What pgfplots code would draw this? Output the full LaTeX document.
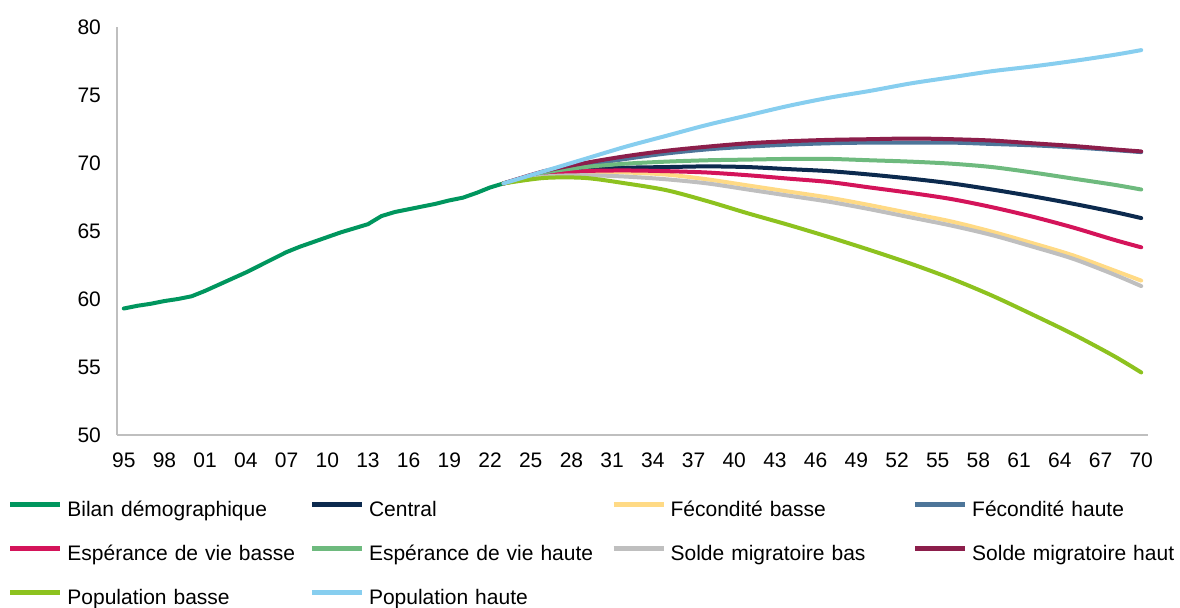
\documentclass[border=0pt]{standalone}
\usepackage{pgfplots}
\pgfplotsset{compat=1.18}
\usepackage{pgfplotstable}
\usepackage{fontspec}
\setmainfont{Liberation Sans}
\definecolor{cBilan}{HTML}{00965E}
\definecolor{cCentral}{HTML}{0C2A4E}
\definecolor{cFB}{HTML}{FFDA85}
\definecolor{cFH}{HTML}{4D7599}
\definecolor{cEVB}{HTML}{D4145A}
\definecolor{cEVH}{HTML}{6EBA7E}
\definecolor{cSMB}{HTML}{BFBFBF}
\definecolor{cSMH}{HTML}{8C1E4B}
\definecolor{cPB}{HTML}{8DC21F}
\definecolor{cPH}{HTML}{87CEEF}

\pgfplotstableread{
year v
1995 59.3
1996 59.5
1997 59.65
1998 59.85
1999 60.0
2000 60.2
2001 60.6
2002 61.05
2003 61.5
2004 61.95
2005 62.45
2006 62.95
2007 63.45
2008 63.85
2009 64.2
2010 64.55
2011 64.9
2012 65.2
2013 65.5
2014 66.1
2015 66.4
2016 66.6
2017 66.8
2018 67.0
2019 67.25
2020 67.45
2021 67.8
2022 68.2
2023 68.5
}\bilan

\pgfplotstableread{
year central smh fh evh evb fb smb pb ph
2023 68.5 68.5 68.5 68.5 68.5 68.5 68.5 68.5 68.5
2026 69.2 69.4 69.3 69.3 69.1 69.1 69.0 68.9 69.4
2029 69.5 70.0 69.85 69.7 69.4 69.3 69.1 68.9 70.3
2032 69.65 70.5 70.3 69.95 69.45 69.3 69.0 68.5 71.2
2035 69.7 70.9 70.7 70.1 69.4 69.15 68.8 68.0 72.0
2038 69.75 71.2 71.0 70.2 69.3 68.8 68.5 67.2 72.8
2041 69.7 71.45 71.2 70.25 69.1 68.35 68.05 66.3 73.5
2044 69.55 71.6 71.35 70.3 68.85 67.9 67.6 65.45 74.2
2047 69.4 71.7 71.45 70.3 68.6 67.45 67.15 64.55 74.8
2050 69.15 71.75 71.5 70.2 68.2 66.9 66.6 63.6 75.3
2053 68.85 71.8 71.5 70.1 67.8 66.3 66.0 62.6 75.85
2056 68.5 71.75 71.5 69.95 67.35 65.7 65.4 61.5 76.3
2059 68.05 71.65 71.4 69.7 66.75 64.95 64.7 60.25 76.75
2062 67.55 71.45 71.3 69.3 66.05 64.1 63.85 58.85 77.1
2065 67.0 71.25 71.15 68.85 65.25 63.2 62.95 57.4 77.5
2068 66.4 71.0 70.95 68.4 64.35 62.1 61.8 55.8 77.95
2070 65.95 70.85 70.8 68.05 63.8 61.35 60.95 54.6 78.3
}\proj

\begin{document}
\begin{tikzpicture}
\path[use as bounding box] (-58.5pt,-86.5pt) rectangle (531.5pt,217.5pt);
\begin{axis}[
  scale only axis,
  width=515.5pt, height=204pt,
  xmin=1994.5, xmax=2070.5,
  ymin=50, ymax=80,
  ytick={50,55,...,80},
  xtick={1995,1998,...,2070},
  xticklabels={95,98,01,04,07,10,13,16,19,22,25,28,31,34,37,40,43,46,49,52,55,58,61,64,67,70},
  axis x line=bottom, axis y line=left,
  axis line style={draw=black!25, line width=0.6pt, -},
  major tick length=0pt,
  tick style={draw=none},
  tick label style={font=\fontsize{10.5}{12}\selectfont, /pgf/number format/assume math mode=true},
  yticklabel style={xshift=-4.5pt},
  xticklabel style={yshift=-5.5pt},
  every axis plot/.append style={line width=2pt, line join=round, line cap=round},
  legend image code/.code={\draw[#1, line width=2.5pt, line cap=butt] (0pt,3.6pt) -- (25pt,3.6pt);},
  legend columns=4,
  legend style={
    at={(-0.1058,-0.163)}, anchor=north west,
    draw=none, fill=none, inner sep=0pt, outer sep=0pt,
    font=\fontsize{10.5}{12}\selectfont,
    row sep=12pt,
    nodes={text width=119.3pt, align=left, inner xsep=1.75pt, inner ysep=0pt, text height=7.5pt, text depth=2.5pt},
    /tikz/every odd column/.append style={column sep=0.5pt},
    /tikz/every even column/.append style={column sep=0pt},
  },
  legend cell align=left,
]
\addplot[cBilan] table[x=year,y=v] {\bilan};
\addlegendentry{Bilan démographique}
\addplot[cCentral, smooth] table[x=year,y=central] {\proj};
\addlegendentry{Central}
\addplot[cFB, smooth] table[x=year,y=fb] {\proj};
\addlegendentry{Fécondité basse}
\addplot[cFH, smooth] table[x=year,y=fh] {\proj};
\addlegendentry{Fécondité haute}
\addplot[cEVB, smooth] table[x=year,y=evb] {\proj};
\addlegendentry{Espérance de vie basse}
\addplot[cEVH, smooth] table[x=year,y=evh] {\proj};
\addlegendentry{Espérance de vie haute}
\addplot[cSMB, smooth] table[x=year,y=smb] {\proj};
\addlegendentry{Solde migratoire bas}
\addplot[cSMH, smooth] table[x=year,y=smh] {\proj};
\addlegendentry{Solde migratoire haut}
\addplot[cPB, smooth] table[x=year,y=pb] {\proj};
\addlegendentry{Population basse}
\addplot[cPH, smooth] table[x=year,y=ph] {\proj};
\addlegendentry{Population haute}
\end{axis}
\end{tikzpicture}
\end{document}
